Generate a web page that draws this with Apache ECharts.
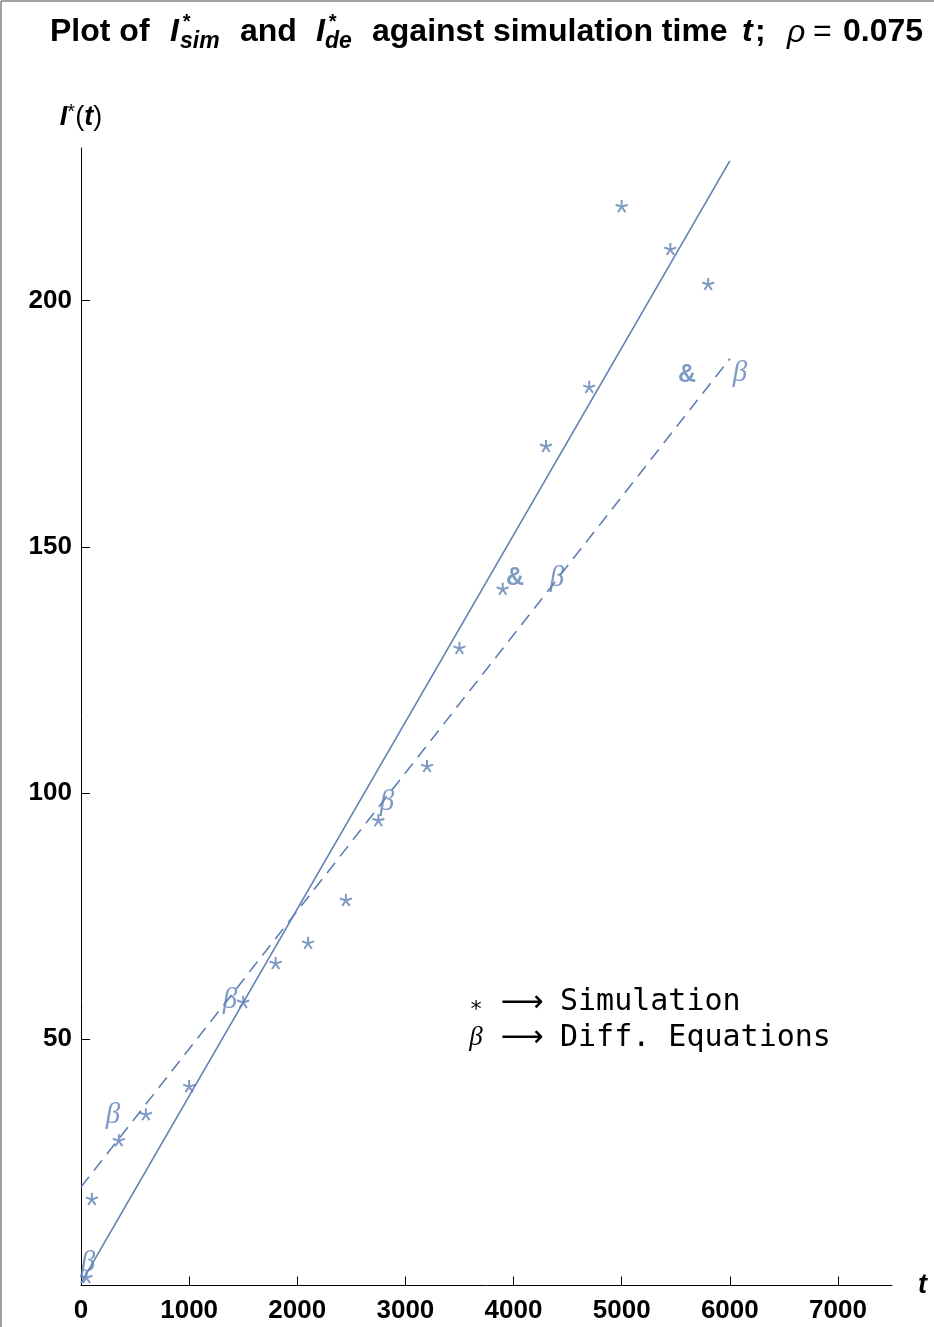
<!DOCTYPE html>
<html>
<head>
<meta charset="utf-8">
<script src="https://cdn.jsdelivr.net/npm/echarts@6/dist/echarts.min.js"></script>
<style>
  html, body { margin: 0; padding: 0; background: #ffffff; }
  #chart { width: 934px; height: 1327px; }
</style>
</head>
<body>
<div id="chart"></div>
<script>
// Axis ticks
const tTicks = [0, 1000, 2000, 3000, 4000, 5000, 6000, 7000];
const iTicks = [50, 100, 150, 200];

// Simulation results I*_sim(t)
const simT = [50, 100, 350, 600, 1000, 1500, 1800, 2100, 2450, 2750, 3200, 3500, 3900, 4300, 4700, 5000, 5450, 5800];
const simI = [1.7, 17.6, 29.5, 34.8, 40.5, 57.6, 65.5, 69.6, 78.3, 94.5, 105.5, 129.5, 141.5, 170.5, 182.5, 219.2, 210.5, 203.4];

// Straight-line fits: simulation (solid) and differential equations (dashed)
const simFitT = [0, 6000];
const simFitI = [0.5, 228.4];
const deFitT = [0, 6000];
const deFitI = [20.0, 188.2];

// Differential-equation markers (β) and the & markers
const betaT = [65, 296, 1378, 2830, 4402, 6095];
const betaI = [4.5, 34.6, 58.0, 98.2, 143.7, 185.3];
const ampT = [4013, 5604];
const ampI = [143.7, 184.9];

const BLUE = '#5E81B5';
const SANS = '"Liberation Sans", Arial, sans-serif';
const SERIF = '"Liberation Serif", "DejaVu Serif", serif';
const MONO = '"DejaVu Sans Mono", "Liberation Mono", monospace';

const zip = (xs, ys) => xs.map((x, k) => [x, ys[k]]);

// five-armed asterisk used for the simulation points
const starPath = 'path://M0,0L0,-1M0,0L0.951,-0.309M0,0L0.588,0.809M0,0L-0.588,0.809M0,0L-0.951,-0.309';

function txt(text, x, y, font, align) {
  return {
    type: 'text', x: x, y: y, silent: true,
    style: { text: text, font: font, fill: '#000', textAlign: align || 'left', textVerticalAlign: 'middle' }
  };
}

const TF = 32;       // title font size
const TY = 32;       // title cap-middle line
const titleParts = [
  txt('Plot of', 50, TY, 'bold ' + TF + 'px ' + SANS),
  txt('I', 170, TY, 'italic bold ' + TF + 'px ' + SANS),
  txt('*', 182, TY - 10, 'italic bold 20px ' + SANS),
  txt('sim', 180, TY + 10, 'italic bold 23px ' + SANS),
  txt('and', 240, TY, 'bold ' + TF + 'px ' + SANS),
  txt('I', 316, TY, 'italic bold ' + TF + 'px ' + SANS),
  txt('*', 328, TY - 10, 'italic bold 20px ' + SANS),
  txt('de', 325, TY + 10, 'italic bold 23px ' + SANS),
  txt('against simulation time', 372, TY, 'bold ' + TF + 'px ' + SANS),
  txt('t', 742, TY, 'italic bold ' + TF + 'px ' + SANS),
  txt(';', 755, TY, 'bold ' + TF + 'px ' + SANS),
  txt('\u03C1', 787, TY + 1, 'italic ' + TF + 'px ' + SANS),
  txt('=', 813, TY, TF + 'px ' + SANS),
  txt('0.075', 843, TY, 'bold ' + TF + 'px ' + SANS)
];

const legendParts = [
  txt('*', 476, 1010, '22px ' + MONO, 'center'),
  txt('\u27F6', 522, 1003, '30px "DejaVu Sans", sans-serif', 'center'),
  txt('Simulation', 560, 1002.6, '30px ' + MONO),
  txt('\u03B2', 476, 1038, 'italic 27px ' + SERIF, 'center'),
  txt('\u27F6', 522, 1038, '30px "DejaVu Sans", sans-serif', 'center'),
  txt('Diff. Equations', 560, 1038.6, '30px ' + MONO)
];

const frame = [
  { type: 'line', silent: true, shape: { x1: 1, y1: 1, x2: 934, y2: 1 }, style: { stroke: '#808080', lineWidth: 1.5 } },
  { type: 'line', silent: true, shape: { x1: 1, y1: 1, x2: 1, y2: 1327 }, style: { stroke: '#808080', lineWidth: 1.5 } }
];

const chart = echarts.init(document.getElementById('chart'), null, { renderer: 'canvas' });

chart.setOption({
  animation: false,
  backgroundColor: '#ffffff',
  grid: { left: 81, right: 42, top: 148, bottom: 41.5, containLabel: false },
  xAxis: {
    type: 'value', min: 0, max: 7500,
    name: 't', nameLocation: 'end', nameGap: 26,
    nameTextStyle: { fontFamily: SANS, fontWeight: 'bold', fontStyle: 'italic', fontSize: 27, color: '#000', verticalAlign: 'middle' },
    axisLine: { show: true, onZero: false, lineStyle: { color: '#000', width: 1 } },
    axisTick: { show: true, inside: true, length: 9, customValues: tTicks, lineStyle: { color: '#000', width: 1 } },
    axisLabel: {
      customValues: tTicks, margin: 12, fontFamily: SANS, fontWeight: 'bold', fontSize: 26, color: '#000',
      formatter: v => String(v)
    },
    splitLine: { show: false }
  },
  yAxis: {
    type: 'value', min: 0, max: 231,
    name: '{b|I}{s|*}{p|(}{b|t}{p|)}', nameLocation: 'end', nameGap: 14,
    nameTextStyle: {
      align: 'center', verticalAlign: 'bottom',
      rich: {
        b: { fontFamily: SANS, fontWeight: 'bold', fontStyle: 'italic', fontSize: 27, color: '#000', lineHeight: 32 },
        s: { fontFamily: SANS, fontSize: 20, color: '#000', verticalAlign: 'top', lineHeight: 32 },
        p: { fontFamily: SANS, fontSize: 27, color: '#000', lineHeight: 32 }
      }
    },
    axisLine: { show: true, onZero: false, lineStyle: { color: '#000', width: 1 } },
    axisTick: { show: true, inside: true, length: 9, customValues: iTicks, lineStyle: { color: '#000', width: 1 } },
    axisLabel: {
      customValues: iTicks, margin: 9, fontFamily: SANS, fontWeight: 'bold', fontSize: 26, color: '#000',
      formatter: v => String(v)
    },
    splitLine: { show: false }
  },
  series: [
    {
      name: 'sim fit', type: 'line', data: zip(simFitT, simFitI), showSymbol: false, silent: true,
      lineStyle: { color: BLUE, width: 1.6, type: 'solid' }, z: 2
    },
    {
      name: 'de fit', type: 'line', data: zip(deFitT, deFitI), showSymbol: false, silent: true,
      lineStyle: { color: BLUE, width: 1.6, type: [13, 8] }, z: 2
    },
    {
      name: 'Simulation', type: 'scatter', data: zip(simT, simI), symbol: starPath, symbolSize: 12, silent: true,
      itemStyle: { color: BLUE, borderColor: BLUE, borderWidth: 2 }, z: 3
    },
    {
      name: 'Diff. Equations', type: 'scatter', data: zip(betaT, betaI), symbol: 'circle', symbolSize: 1, silent: true,
      itemStyle: { color: 'rgba(0,0,0,0)' },
      label: { show: true, position: 'inside', formatter: '\u03B2', fontFamily: SERIF, fontStyle: 'italic', fontSize: 29, color: BLUE },
      z: 3
    },
    {
      name: 'amp', type: 'scatter', data: zip(ampT, ampI), symbol: 'circle', symbolSize: 1, silent: true,
      itemStyle: { color: 'rgba(0,0,0,0)' },
      label: { show: true, position: 'inside', formatter: '&', fontFamily: SANS, fontWeight: 'bold', fontSize: 25, color: BLUE },
      z: 3
    }
  ],
  graphic: { elements: frame.concat(titleParts, legendParts) }
});
</script>
</body>
</html>
